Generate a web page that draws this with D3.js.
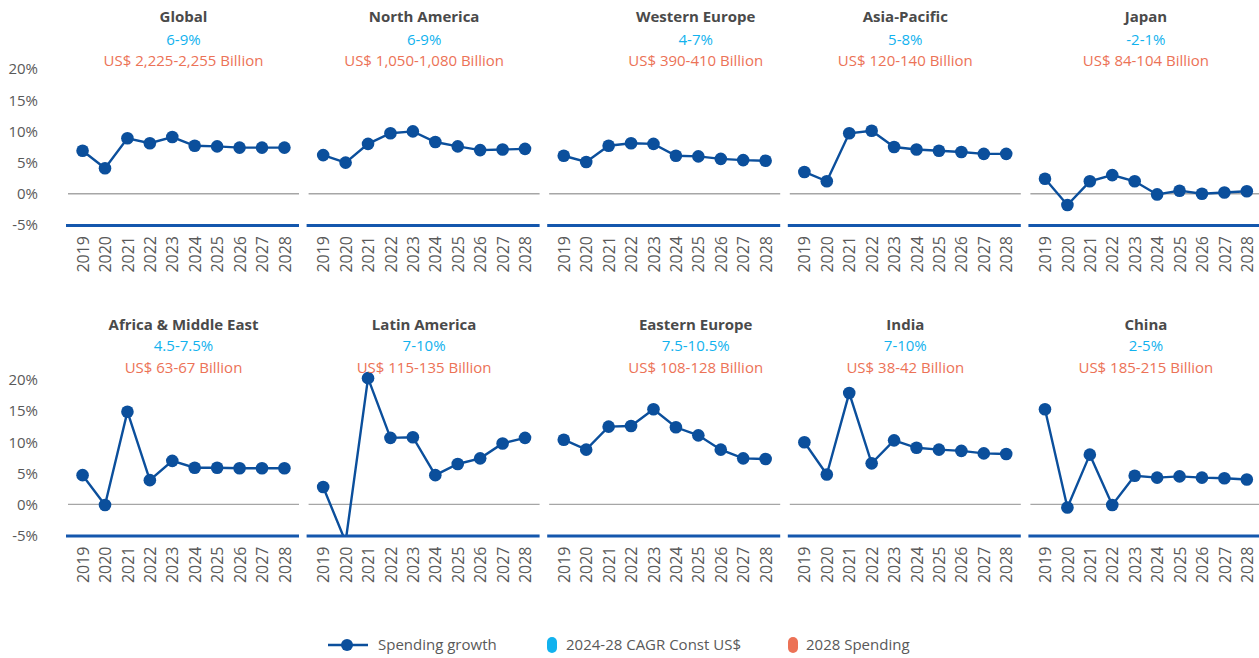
<!DOCTYPE html>
<html>
<head>
<meta charset="utf-8">
<script src="https://cdn.jsdelivr.net/npm/d3@7"></script>
<style>
  html, body { margin: 0; padding: 0; background: #ffffff; }
  svg { display: block; font-family: "Open Sans", "Noto Sans", sans-serif; }
</style>
</head>
<body>
<svg id="chart" width="1259" height="658"></svg>
<script>
// Years on the x axis
const years = [2019, 2020, 2021, 2022, 2023, 2024, 2025, 2026, 2027, 2028];

// Region names, CAGR ranges and 2028 spending, in panel order
const regions = ["Global", "North America", "Western Europe", "Asia-Pacific", "Japan",
                 "Africa & Middle East", "Latin America", "Eastern Europe", "India", "China"];
const cagrLabels = ["6-9%", "6-9%", "4-7%", "5-8%", "-2-1%",
                    "4.5-7.5%", "7-10%", "7.5-10.5%", "7-10%", "2-5%"];
const spendingLabels = ["US$ 2,225-2,255 Billion", "US$ 1,050-1,080 Billion", "US$ 390-410 Billion",
                        "US$ 120-140 Billion", "US$ 84-104 Billion", "US$ 63-67 Billion",
                        "US$ 115-135 Billion", "US$ 108-128 Billion", "US$ 38-42 Billion",
                        "US$ 185-215 Billion"];

// Annual spending growth (%) per region
const globalGrowth        = [6.9, 4.1, 8.9, 8.1, 9.1, 7.7, 7.6, 7.4, 7.4, 7.4];
const northAmericaGrowth  = [6.2, 5.0, 8.0, 9.7, 10.0, 8.3, 7.6, 7.0, 7.1, 7.2];
const westernEuropeGrowth = [6.1, 5.1, 7.7, 8.1, 8.0, 6.1, 6.0, 5.6, 5.4, 5.3];
const asiaPacificGrowth   = [3.5, 2.0, 9.7, 10.1, 7.5, 7.1, 6.9, 6.7, 6.4, 6.4];
const japanGrowth         = [2.4, -1.8, 2.0, 3.0, 2.0, -0.1, 0.5, 0.0, 0.2, 0.4];
const africaMEGrowth      = [4.7, -0.1, 14.9, 3.9, 7.0, 5.9, 5.9, 5.8, 5.8, 5.8];
const latinAmericaGrowth  = [2.8, -6.0, 20.3, 10.7, 10.8, 4.7, 6.5, 7.4, 9.8, 10.7];
const easternEuropeGrowth = [10.4, 8.8, 12.5, 12.6, 15.3, 12.4, 11.1, 8.8, 7.4, 7.3];
const indiaGrowth         = [10.0, 4.8, 17.9, 6.6, 10.3, 9.1, 8.8, 8.6, 8.2, 8.1];
const chinaGrowth         = [15.3, -0.5, 8.0, -0.1, 4.6, 4.3, 4.5, 4.3, 4.2, 4.0];

const growthSeries = [globalGrowth, northAmericaGrowth, westernEuropeGrowth, asiaPacificGrowth,
                      japanGrowth, africaMEGrowth, latinAmericaGrowth, easternEuropeGrowth,
                      indiaGrowth, chinaGrowth];

// Y axis ticks
const yTicks = [-5, 0, 5, 10, 15, 20];
const yTickLabels = ["-5%", "0%", "5%", "10%", "15%", "20%"];

// Legend entries
const legendLabels = ["Spending growth", "2024-28 CAGR Const US$", "2028 Spending"];

const colors = {
  line: "#0b4f9c",
  axis: "#1457ad",
  zero: "#a6a6a6",
  title: "#4a4a4a",
  cagr: "#12b2ee",
  spend: "#ec7256",
  text: "#595959"
};

const svg = d3.select("#chart");

// Layout of the 2 x 5 grid of small multiples
const panelW = 231, colStep = 240.6, left0 = 68;
const rows = [
  { top: 69, bottom: 225, titleY: 17, cagrY: 40, spendY: 61 },
  { top: 380, bottom: 535.5, titleY: 325, cagrY: 346, spendY: 367.5 }
];
// Horizontal shift of the heading block per column (the middle one sits right of centre)
const headingShift = [0, 0, 31, 0, 0];

const x = d3.scalePoint().domain(years).range([0, panelW]).padding(0.65);

regions.forEach((name, i) => {
  const row = rows[Math.floor(i / 5)];
  const col = i % 5;
  const x0 = left0 + col * colStep;
  const y = d3.scaleLinear().domain([-5, 20]).range([row.bottom, row.top]);
  const g = svg.append("g").attr("transform", `translate(${x0},0)`);

  // Clip so values below -5% fall under the axis line
  const clipId = "clip" + i;
  g.append("clipPath").attr("id", clipId)
    .append("rect").attr("x", -10).attr("y", 0).attr("width", panelW + 20).attr("height", y(-5));

  // Zero line
  g.append("line")
    .attr("x1", 0).attr("x2", panelW)
    .attr("y1", y(0)).attr("y2", y(0))
    .attr("stroke", colors.zero).attr("stroke-width", 1.4);

  // Series line and markers
  const data = growthSeries[i].map((v, k) => ({ year: years[k], v }));
  const plot = g.append("g").attr("clip-path", `url(#${clipId})`);
  plot.append("path")
    .datum(data)
    .attr("fill", "none")
    .attr("stroke", colors.line)
    .attr("stroke-width", 2.4)
    .attr("d", d3.line().x(d => x(d.year)).y(d => y(d.v)));
  plot.selectAll("circle")
    .data(data)
    .join("circle")
    .attr("cx", d => x(d.year))
    .attr("cy", d => y(d.v))
    .attr("r", 6.3)
    .attr("fill", colors.line);

  // X axis at -5%
  const xAxis = g.append("g")
    .attr("transform", `translate(0,${y(-5)})`)
    .call(d3.axisBottom(x).tickSize(0).tickPadding(0));
  xAxis.select(".domain").remove();
  xAxis.append("line")
    .attr("x1", -2).attr("x2", panelW)
    .attr("y1", 0.5).attr("y2", 0.5)
    .attr("stroke", colors.axis).attr("stroke-width", 2.8);
  xAxis.selectAll(".tick text")
    .attr("transform", "rotate(-90)")
    .attr("text-anchor", "end")
    .attr("x", -11)
    .attr("y", 0)
    .attr("dy", "0.35em")
    .attr("fill", colors.text)
    .style("font-size", "16px")
    .style("font-family", "'Open Sans', sans-serif");

  // Y axis labels on the first column only
  if (col === 0) {
    const yAxis = svg.append("g")
      .attr("transform", `translate(${x0 - 30},0)`)
      .call(d3.axisLeft(y).tickValues(yTicks).tickSize(0).tickPadding(0)
        .tickFormat((d, k) => yTickLabels[k]));
    yAxis.select(".domain").remove();
    yAxis.selectAll(".tick text")
      .attr("fill", colors.text)
      .style("font-size", "15px")
      .style("font-family", "'Open Sans', sans-serif");
  }

  // Panel headings
  const cx = panelW / 2 + headingShift[col];
  g.append("text").attr("x", cx).attr("y", row.titleY).attr("dy", "0.35em")
    .attr("text-anchor", "middle").attr("fill", colors.title)
    .style("font-size", "15px").style("font-weight", "bold").text(name);
  g.append("text").attr("x", cx).attr("y", row.cagrY).attr("dy", "0.35em")
    .attr("text-anchor", "middle").attr("fill", colors.cagr)
    .style("font-size", "15px").text(cagrLabels[i]);
  g.append("text").attr("x", cx).attr("y", row.spendY).attr("dy", "0.35em")
    .attr("text-anchor", "middle").attr("fill", colors.spend)
    .style("font-size", "15px").text(spendingLabels[i]);
});

// Legend
const legend = svg.append("g").attr("transform", "translate(0,645)");
legend.append("line").attr("x1", 328).attr("x2", 368).attr("y1", 0).attr("y2", 0)
  .attr("stroke", colors.line).attr("stroke-width", 2.4);
legend.append("circle").attr("cx", 347).attr("cy", 0).attr("r", 6).attr("fill", colors.line);
legend.append("rect").attr("x", 547).attr("y", -8).attr("width", 10).attr("height", 16)
  .attr("rx", 5).attr("fill", colors.cagr);
legend.append("rect").attr("x", 788).attr("y", -8).attr("width", 10).attr("height", 16)
  .attr("rx", 5).attr("fill", colors.spend);
const legendX = [378, 566, 806];
legendLabels.forEach((t, k) => {
  legend.append("text").attr("x", legendX[k]).attr("y", 0).attr("dy", "0.35em")
    .attr("fill", colors.text).style("font-size", "15px").text(t);
});
</script>
</body>
</html>
